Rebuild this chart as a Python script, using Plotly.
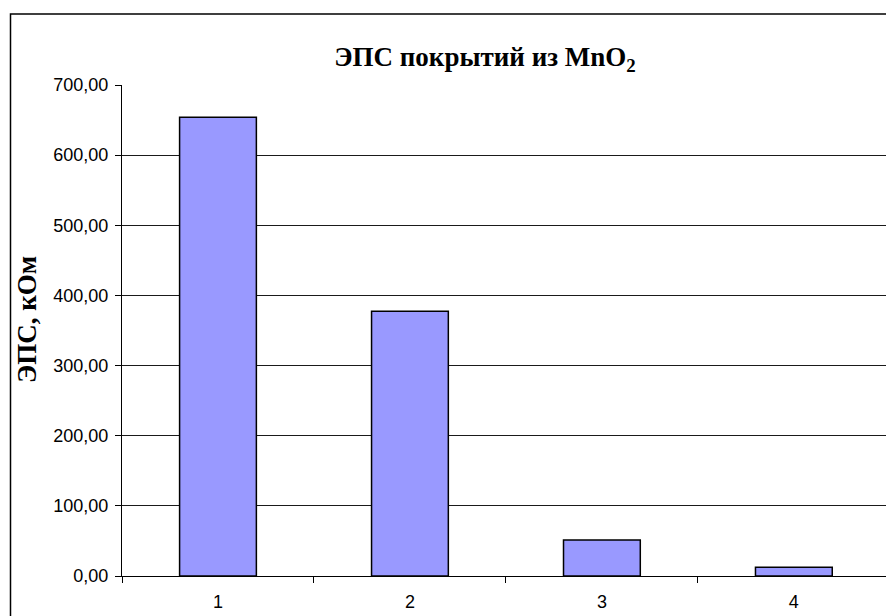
import plotly.graph_objects as go

categories = ["1", "2", "3", "4"]
values = [654.0, 377.6, 51.5, 12.5]
y_ticks = [0, 100, 200, 300, 400, 500, 600, 700]
y_tick_labels = ["0,00", "100,00", "200,00", "300,00", "400,00", "500,00", "600,00", "700,00"]

W, H = 886, 616
L, R, T, B = 122, 0, 85, 40
pw = W - L - R
ph = H - T - B

def px_to_paper_x(px):
    return (px - L) / pw

def px_to_paper_y(py):
    return (H - B - py) / ph

fig = go.Figure()
fig.add_trace(go.Bar(
    x=categories, y=values, width=0.4,
    marker=dict(color="#9999FF", line=dict(color="#000000", width=1.5)),
    showlegend=False,
))

fig.update_layout(
    width=W, height=H,
    margin=dict(l=L, r=R, t=T, b=B, pad=0),
    paper_bgcolor="white", plot_bgcolor="white",
    font=dict(family="Liberation Sans, Arial, sans-serif", size=18, color="black"),
    title=dict(
        text="<b>ЭПС покрытий из MnO<sub>2</sub></b>",
        x=485 / W, xanchor="center", xref="container",
        y=1 - 57 / H, yanchor="middle", yref="container",
        font=dict(family="Liberation Serif, Times New Roman, serif", size=27, color="black"),
    ),
    bargap=0.6,
)

fig.update_xaxes(
    type="category", range=[-0.5, 3.48],
    tickson="boundaries", ticks="outside", ticklen=6, tickcolor="black", tickwidth=1,
    showline=True, linecolor="black", linewidth=1,
    showgrid=False, zeroline=False,
    tickfont=dict(size=18), ticklabelstandoff=9,
)
fig.update_yaxes(
    range=[0, 700], tickvals=y_ticks, ticktext=y_tick_labels,
    ticks="outside", ticklen=6, tickcolor="black", tickwidth=1,
    showline=True, linecolor="black", linewidth=1,
    showgrid=True, gridcolor="#1a1a1a", gridwidth=1,
    zeroline=False, tickfont=dict(size=18), ticklabelstandoff=3,
)

fig.add_annotation(
    text="<b>ЭПС, кОм</b>", textangle=-90,
    x=px_to_paper_x(27), y=px_to_paper_y(320), xref="paper", yref="paper",
    xanchor="center", yanchor="middle", showarrow=False,
    font=dict(family="Liberation Serif, Times New Roman, serif", size=27, color="black"),
)

fig.add_shape(
    type="rect", xref="paper", yref="paper",
    x0=px_to_paper_x(10.5), x1=px_to_paper_x(W + 10),
    y0=px_to_paper_y(H + 10), y1=px_to_paper_y(14),
    line=dict(color="black", width=1.5), fillcolor="rgba(0,0,0,0)", layer="above",
)

fig.write_html(
    "out.html",
    config={"displayModeBar": False},
    post_script="document.body.style.margin='0';document.body.style.overflow='hidden';",
)
